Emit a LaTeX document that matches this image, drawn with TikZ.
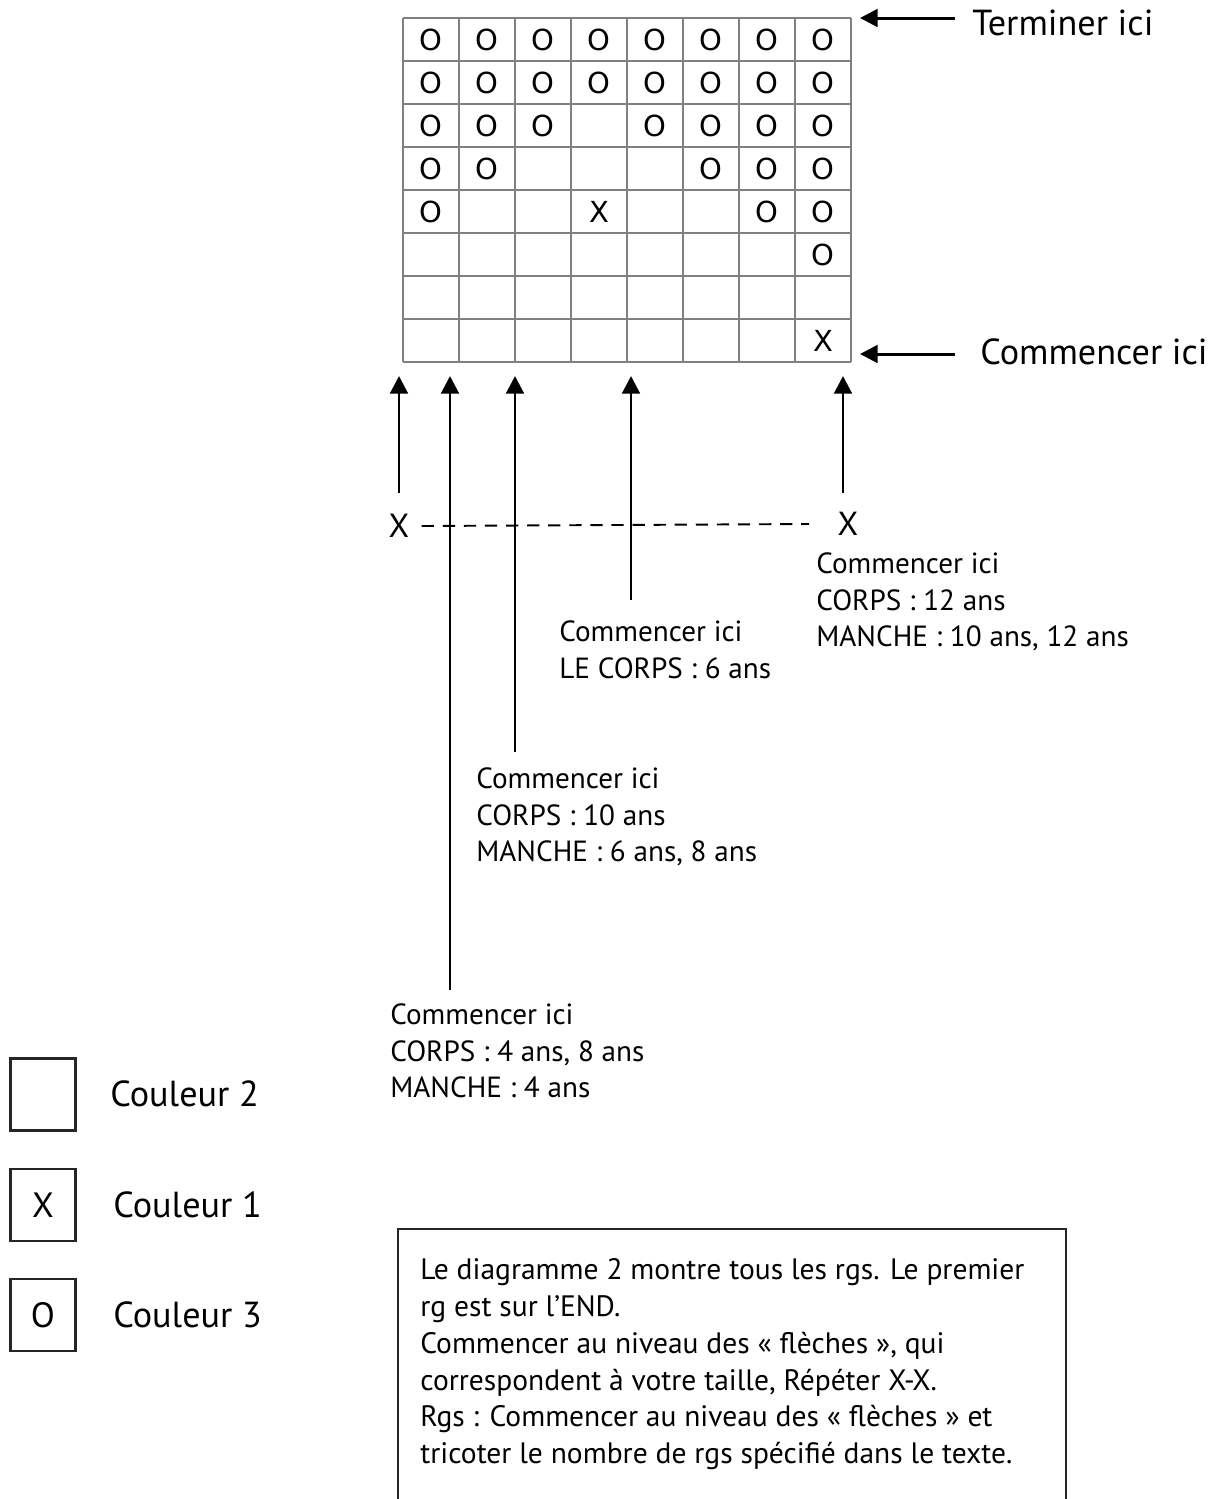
\documentclass[tikz,border=0pt]{standalone}
\usepackage{fontspec}
\setmainfont{PT Sans}
\newfontfamily\gridfont{DejaVu Sans}
\usetikzlibrary{arrows.meta}
\tikzset{
  cellsym/.style={font=\gridfont\fontsize{16.5}{18}\selectfont, inner sep=0},
  lbl/.style={font=\fontsize{16.6}{21}\selectfont, align=left, anchor=north west, inner sep=0},
  biglbl/.style={font=\fontsize{20.6}{24}\selectfont, anchor=base west, inner sep=0},
  uparr/.style={line width=1.7pt, -{Triangle[width=10pt,length=10pt]}},
  legbox/.style={draw=black!85, line width=1.3pt, minimum width=37pt, minimum height=41pt, inner sep=0}
}
\begin{document}
\begin{tikzpicture}[x=0.02cm, y=-0.02cm]
\useasboundingbox (0,0) rectangle (1223,1499);
% grid
\foreach \i in {0,...,8} {
  \draw[gray, line width=1.1pt] (403+\i*56,18) -- (403+\i*56,362);
  \draw[gray, line width=1.1pt] (403,18+\i*43) -- (851,18+\i*43);
}
\foreach \c/\r/\s in {1/1/O,2/1/O,3/1/O,4/1/O,5/1/O,6/1/O,7/1/O,8/1/O,
  1/2/O,2/2/O,3/2/O,4/2/O,5/2/O,6/2/O,7/2/O,8/2/O,
  1/3/O,2/3/O,3/3/O,5/3/O,6/3/O,7/3/O,8/3/O,
  1/4/O,2/4/O,6/4/O,7/4/O,8/4/O,
  1/5/O,4/5/X,7/5/O,8/5/O,
  8/6/O,
  8/8/X}
  \node[cellsym] (c\c r\r) at (403+\c*56-28,18+\r*43-21) {\s};
% right side
\coordinate (gtop) at (860,18);
\coordinate (gbot) at (860,354);
\node[biglbl] (fin) at (972,35) {Terminer ici};
\node[biglbl] (debut) at (980,364) {Commencer ici};
\draw[uparr] (955,18) -- (gtop);
\draw[uparr] (955,354) -- (gbot);
% repeat
\node[font=\fontsize{19}{22}\selectfont, inner sep=0] (xa) at (399,526) {X};
\node[font=\fontsize{19}{22}\selectfont, inner sep=0] (xb) at (848,524) {X};
\draw[line width=1.1pt, dash pattern=on 7pt off 5pt] (xa.east) ++(12,0) -- ([xshift=-16]xb.west);
\coordinate (ta) at (399,376);
\coordinate (tb) at (843,376);
\draw[uparr] (399,493) -- (ta);
\draw[uparr] (843,493) -- (tb);
% sizes
\node[lbl] (s4) at (390,1003) {Commencer ici\\CORPS : 4 ans, 8 ans\\MANCHE : 4 ans};
\node[lbl] (s10) at (476,767) {Commencer ici\\CORPS : 10 ans\\MANCHE : 6 ans, 8 ans};
\node[lbl] (s6) at (559,620) {Commencer ici\\LE CORPS : 6 ans};
\node[lbl] (s12) at (816,552) {Commencer ici\\CORPS : 12 ans\\MANCHE : 10 ans, 12 ans};
\coordinate (t4) at (450,376);
\coordinate (t10) at (515,376);
\coordinate (t6) at (631,376);
\draw[uparr] (450,990) -- (t4);
\draw[uparr] (515,752) -- (t10);
\draw[uparr] (631,600) -- (t6);
% legend
\node[legbox] (k2) at (43,1094.5) {};
\node[legbox, font=\fontsize{20}{22}\selectfont] (k1) at (43,1205) {X};
\node[legbox, font=\fontsize{20}{22}\selectfont] (k3) at (43,1315) {O};
\node[biglbl] (n2) at (110,1106) {Couleur 2};
\node[biglbl] (n1) at (113,1217) {Couleur 1};
\node[biglbl] (n3) at (113,1327) {Couleur 3};
% note
\draw[line width=1.3pt, black!85] (398,1499) -- (398,1229) -- (1066,1229) -- (1066,1499);
\node[lbl, font=\fontsize{16.8}{21}\selectfont] (note) at (420,1258) {Le diagramme 2 montre tous les rgs. Le premier\\rg est sur l’END.\\Commencer au niveau des « flèches », qui\\correspondent à votre taille, Répéter X-X.\\Rgs : Commencer au niveau des « flèches » et\\tricoter le nombre de rgs spécifié dans le texte.};
\end{tikzpicture}
\end{document}
